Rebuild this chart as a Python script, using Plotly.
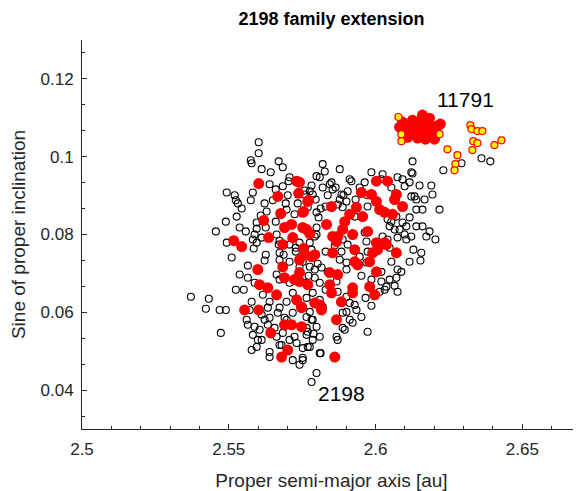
import plotly.graph_objects as go

# ---------------- data ----------------
black_a = [2.5371, 2.5432, 2.5422, 2.5469, 2.5490, 2.5473, 2.5456, 2.5493, 2.5520, 2.5524,
           2.5531, 2.5544, 2.5527, 2.5602, 2.5602, 2.5575, 2.5578, 2.5612, 2.5670, 2.5684,
           2.5643, 2.5707, 2.5704, 2.5684, 2.5582, 2.5575, 2.5622, 2.5650, 2.5629, 2.5609,
           2.5595, 2.5694, 2.5697, 2.5735, 2.5759, 2.5759, 2.5595, 2.5588, 2.5612, 2.5582,
           2.5595, 2.5663, 2.5673, 2.5741, 2.5799, 2.5799, 2.6126, 2.5820, 2.5827, 2.5810,
           2.5850, 2.5844, 2.5820, 2.5854, 2.5912, 2.5918, 2.5986, 2.6024, 2.6020, 2.6092,
           2.6116, 2.6126, 2.6190, 2.6194, 2.5963, 2.5884, 2.6122, 2.6139, 2.6139, 2.6160,
           2.5878, 2.5901, 2.5813, 2.5830, 2.5799, 2.5786, 2.5776, 2.5888, 2.5973, 2.5929,
           2.6041, 2.6071, 2.6048, 2.6065, 2.6092, 2.6105, 2.6139, 2.6160, 2.6122, 2.6184,
           2.6173, 2.5963, 2.5969, 2.5888, 2.5799, 2.5793, 2.5776, 2.6024, 2.6041, 2.6105,
           2.5537, 2.5565, 2.5578, 2.5561, 2.5565, 2.5588, 2.5605, 2.5582, 2.5595, 2.5639,
           2.5639, 2.5622, 2.5626, 2.5673, 2.5673, 2.5663, 2.5673, 2.5616, 2.5639, 2.5633,
           2.5673, 2.5667, 2.5622, 2.5633, 2.5599, 2.5663, 2.5684, 2.5673, 2.5707, 2.5731,
           2.5724, 2.5697, 2.5718, 2.5765, 2.5782, 2.5707, 2.5718, 2.5697, 2.5765, 2.5786,
           2.5741, 2.5776, 2.5793, 2.5707, 2.5670, 2.5493, 2.5585, 2.5769, 2.5718, 2.5752,
           2.5769, 2.5578, 2.6156, 2.6153, 2.6071, 2.6088, 2.6075, 2.6075, 2.6037, 2.5973,
           2.5952, 2.5912, 2.5922, 2.5929, 2.5935, 2.5888, 2.5901, 2.5888, 2.5867, 2.5871,
           2.5810, 2.5786, 2.5776, 2.5752, 2.5810, 2.5752, 2.6024, 2.6048, 2.5946, 2.5973,
           2.5969, 2.5878, 2.5901, 2.5901, 2.5816, 2.5837, 2.5810, 2.5793, 2.5867, 2.6020,
           2.6031, 2.5776, 2.5786, 2.5799, 2.5810, 2.5820, 2.5901, 2.5912, 2.5765, 2.5765,
           2.6122, 2.6231, 2.6293, 2.6361, 2.6391, 2.6099, 2.6133, 2.5799, 2.5782, 2.5813,
           2.5741, 2.5680, 2.5789, 2.5895,
           2.5782, 2.5796, 2.5769, 2.5806, 2.5864, 2.5891, 2.5871, 2.5905, 2.6054, 2.6082,
           2.6099, 2.6075, 2.6116, 2.5752, 2.5772, 2.5803, 2.5762, 2.5861, 2.5884, 2.5905,
           2.6020, 2.6048, 2.6065, 2.6014, 2.5986, 2.5612, 2.5639, 2.5656, 2.5690, 2.5612,
           2.5571, 2.5551, 2.5588, 2.5524, 2.5565, 2.5639, 2.5660, 2.5537, 2.5558, 2.5626,
           2.5660, 2.5724, 2.5687, 2.5707, 2.5728,
           2.5728, 2.5782, 2.5830, 2.5830, 2.5871, 2.5952, 2.5966, 2.5986, 2.6054, 2.6116,
           2.6129, 2.6204, 2.6167, 2.6218, 2.6150, 2.6075, 2.6054, 2.5946, 2.5973, 2.5932,
           2.5837, 2.5878, 2.5701, 2.5490, 2.5510]
black_sini = [0.0640, 0.0635, 0.0609, 0.0606, 0.0606, 0.0547, 0.0808, 0.0908, 0.0901, 0.0888,
              0.0880, 0.0867, 0.0846, 0.1037, 0.1009, 0.0991, 0.0983, 0.0968, 0.0988, 0.0973,
              0.0960, 0.0947, 0.0937, 0.0924, 0.0908, 0.0888, 0.0880, 0.0888, 0.0859, 0.0849,
              0.0831, 0.0880, 0.0864, 0.0880, 0.0913, 0.0903, 0.0815, 0.0800, 0.0792, 0.0787,
              0.0779, 0.0800, 0.0784, 0.0779, 0.0950, 0.0800, 0.0988, 0.0981, 0.0962, 0.0947,
              0.0934, 0.0929, 0.0921, 0.0916, 0.0942, 0.0937, 0.0960, 0.0955, 0.0942, 0.0942,
              0.0934, 0.0957, 0.0926, 0.0903, 0.0934, 0.0903, 0.0898, 0.0890, 0.0864, 0.0864,
              0.0890, 0.0885, 0.0867, 0.0872, 0.0857, 0.0903, 0.0911, 0.0870, 0.0872, 0.0846,
              0.0839, 0.0846, 0.0821, 0.0813, 0.0831, 0.0821, 0.0821, 0.0821, 0.0795, 0.0808,
              0.0795, 0.0805, 0.0782, 0.0787, 0.0818, 0.0795, 0.0779, 0.0795, 0.0787, 0.0787,
              0.0697, 0.0720, 0.0627, 0.0581, 0.0568, 0.0563, 0.0555, 0.0542, 0.0511, 0.0498,
              0.0485, 0.0733, 0.0748, 0.0753, 0.0735, 0.0697, 0.0684, 0.0645, 0.0627, 0.0612,
              0.0612, 0.0599, 0.0581, 0.0568, 0.0529, 0.0537, 0.0547, 0.0516, 0.0529, 0.0521,
              0.0537, 0.0581, 0.0599, 0.0588, 0.0581, 0.0676, 0.0650, 0.0627, 0.0637, 0.0650,
              0.0717, 0.0717, 0.0710, 0.0774, 0.0774, 0.0779, 0.0764, 0.0511, 0.0477, 0.0477,
              0.0550, 0.0503, 0.0753, 0.0733, 0.0689, 0.0704, 0.0710, 0.0653, 0.0666, 0.0550,
              0.0588, 0.0581, 0.0573, 0.0619, 0.0606, 0.0599, 0.0601, 0.0560, 0.0537, 0.0529,
              0.0537, 0.0529, 0.0511, 0.0508, 0.0495, 0.0483, 0.0774, 0.0766, 0.0743, 0.0756,
              0.0728, 0.0735, 0.0728, 0.0710, 0.0715, 0.0704, 0.0676, 0.0689, 0.0679, 0.0679,
              0.0658, 0.0601, 0.0581, 0.0563, 0.0632, 0.0614, 0.0640, 0.0624, 0.0560, 0.0542,
              0.0960, 0.0965, 0.0983, 0.0996, 0.0988, 0.0924, 0.0898, 0.0444, 0.0421, 0.0495,
              0.0465, 0.0516, 0.0545, 0.0555,
              0.0926, 0.0890, 0.0870, 0.0844, 0.0921, 0.0901, 0.0877, 0.0911, 0.0833, 0.0813,
              0.0800, 0.0792, 0.0844, 0.0730, 0.0694, 0.0725, 0.0676, 0.0772, 0.0756, 0.0774,
              0.0704, 0.0684, 0.0668, 0.0653, 0.0684, 0.0594, 0.0586, 0.0560, 0.0586, 0.0529,
              0.0606, 0.0658, 0.0676, 0.0658, 0.0689, 0.0929, 0.0916, 0.0818, 0.0808, 0.0818,
              0.0833, 0.0852, 0.0748, 0.0730, 0.0756,
              0.0766, 0.0761, 0.0756, 0.0658, 0.0653, 0.0694, 0.0637, 0.0617, 0.0730, 0.0730,
              0.0761, 0.0787, 0.0890, 0.0864, 0.0926, 0.0947, 0.0921, 0.0921, 0.0901, 0.0890,
              0.0901, 0.0968, 0.0901, 0.0833, 0.0741]

red_a = [2.5602, 2.5731, 2.5738, 2.5667, 2.5772, 2.5755, 2.5677, 2.5619, 2.5714, 2.5690,
         2.5752, 2.5776, 2.5718, 2.5636, 2.5517, 2.5544, 2.5755, 2.6003, 2.6041, 2.5952,
         2.5986, 2.6071, 2.6065, 2.6003, 2.6014, 2.6031, 2.6092, 2.6058, 2.5935, 2.5912,
         2.5956, 2.5850, 2.5769, 2.5752, 2.5833, 2.5895, 2.5888, 2.5854, 2.5871, 2.5922,
         2.5973, 2.6003, 2.6031, 2.5765, 2.5741, 2.5599, 2.5605, 2.5633, 2.5663, 2.5554,
         2.5602, 2.5684, 2.5690, 2.5741, 2.5724, 2.5741, 2.5769, 2.5690, 2.5714, 2.5748,
         2.5731, 2.5748, 2.5643, 2.5701, 2.5680, 2.5759, 2.5782, 2.5741, 2.5684, 2.5793,
         2.5793, 2.5854, 2.5867, 2.5929, 2.5929, 2.5939, 2.5980, 2.5990, 2.6007, 2.6037,
         2.6071, 2.6003, 2.5844, 2.5871, 2.5844, 2.5850, 2.5884, 2.5922, 2.5922, 2.5980,
         2.5997, 2.5810, 2.5816, 2.5748, 2.5867, 2.5861,
         2.6092, 2.6099, 2.6116, 2.6122, 2.6133, 2.6143, 2.6150, 2.6160, 2.6156, 2.6167,
         2.6177, 2.6184, 2.6194, 2.6204, 2.6211, 2.6221, 2.6109, 2.6143, 2.6170, 2.6126,
         2.6156, 2.6184, 2.6082, 2.6133, 2.6201]
red_sini = [0.0931, 0.0937, 0.0906, 0.0898, 0.0888, 0.0859, 0.0854, 0.0836, 0.0826, 0.0818,
            0.0818, 0.0802, 0.0792, 0.0792, 0.0784, 0.0769, 0.0764, 0.0937, 0.0937, 0.0908,
            0.0903, 0.0903, 0.0890, 0.0885, 0.0864, 0.0857, 0.0872, 0.0852, 0.0870, 0.0852,
            0.0846, 0.0872, 0.0885, 0.0857, 0.0826, 0.0833, 0.0813, 0.0795, 0.0795, 0.0800,
            0.0808, 0.0779, 0.0779, 0.0813, 0.0934, 0.0710, 0.0671, 0.0663, 0.0645, 0.0606,
            0.0606, 0.0717, 0.0689, 0.0702, 0.0684, 0.0679, 0.0671, 0.0568, 0.0568, 0.0563,
            0.0632, 0.0612, 0.0547, 0.0503, 0.0485, 0.0748, 0.0743, 0.0735, 0.0774, 0.0624,
            0.0748, 0.0753, 0.0782, 0.0761, 0.0730, 0.0722, 0.0730, 0.0753, 0.0761, 0.0774,
            0.0753, 0.0704, 0.0702, 0.0697, 0.0671, 0.0650, 0.0627, 0.0663, 0.0650, 0.0666,
            0.0645, 0.0619, 0.0606, 0.0614, 0.0581, 0.0485,
            0.1089, 0.1071, 0.1076, 0.1058, 0.1084, 0.1071, 0.1091, 0.1107, 0.1058, 0.1079,
            0.1063, 0.1084, 0.1071, 0.1058, 0.1079, 0.1084, 0.1050, 0.1048, 0.1045, 0.1094,
            0.1076, 0.1099, 0.1076, 0.1063, 0.1045]

yellow_a = [2.6078, 2.6088, 2.6088, 2.6218, 2.6245, 2.6279, 2.6272, 2.6269, 2.6323, 2.6327,
            2.6347, 2.6364, 2.6333, 2.6347, 2.6330, 2.6405, 2.6429]
yellow_sini = [0.1102, 0.1040, 0.1058, 0.1058, 0.1019, 0.1004, 0.0981, 0.0965, 0.1081, 0.1071,
               0.1066, 0.1066, 0.1040, 0.1035, 0.1017, 0.1030, 0.1042]

label_names = ["11791", "2198"]
label_a = [2.6306, 2.5884]
label_sini = [0.1146, 0.0392]

x_ticks = [2.5, 2.55, 2.6, 2.65]
x_tick_text = ["2.5", "2.55", "2.6", "2.65"]
y_ticks = [0.04, 0.06, 0.08, 0.1, 0.12]
y_tick_text = ["0.04", "0.06", "0.08", "0.1", "0.12"]

# ---------------- figure ----------------
AX = "#262626"
FONT = "Liberation Sans, Arial, Helvetica, sans-serif"
W, H = 573, 483   # page body has an 8 px margin

fig = go.Figure()
fig.add_trace(go.Scatter(
    x=black_a, y=black_sini, mode="markers", hoverinfo="skip",
    marker=dict(symbol="circle-open", size=7, color="black", line=dict(width=1.1)),
))
fig.add_trace(go.Scatter(
    x=red_a, y=red_sini, mode="markers", hoverinfo="skip",
    marker=dict(symbol="circle", size=11, color="#ff0000", line=dict(width=0)),
))
fig.add_trace(go.Scatter(
    x=yellow_a, y=yellow_sini, mode="markers", hoverinfo="skip",
    marker=dict(symbol="circle", size=7, color="#ffff00", line=dict(color="#ff0000", width=1.2)),
))

for name, a, s in zip(label_names, label_a, label_sini):
    fig.add_annotation(x=a, y=s, xref="x", yref="y", text=name, showarrow=False,
                       font=dict(family=FONT, size=21, color="black"))

fig.update_layout(
    width=W, height=H,
    margin=dict(l=74, r=0, t=32, b=62, autoexpand=False),
    paper_bgcolor="white", plot_bgcolor="white",
    showlegend=False,
    title=dict(text="<b>2198 family extension</b>", x=(74 + W) / 2 / W, xref="container",
               xanchor="center", y=1 - 11 / H, yref="container", yanchor="middle",
               font=dict(family=FONT, size=18, color="black")),
    font=dict(family=FONT, color=AX),
)
fig.update_xaxes(
    automargin=False,
    range=[2.5, 2.67], tickmode="array", tickvals=x_ticks, ticktext=x_tick_text,
    ticks="inside", ticklen=5, tickwidth=1, tickcolor=AX,
    showline=True, linecolor=AX, linewidth=1, mirror=False,
    showgrid=False, zeroline=False, ticklabelstandoff=5,
    minor=dict(ticks="inside", ticklen=3, tickcolor=AX, tick0=2.5, dtick=0.01, showgrid=False),
    tickfont=dict(family=FONT, size=17, color=AX),
    title=dict(text="Proper semi-major axis [au]", font=dict(family=FONT, size=19, color=AX)),
)
fig.update_yaxes(
    automargin=False,
    range=[0.03, 0.13], tickmode="array", tickvals=y_ticks, ticktext=y_tick_text,
    ticks="inside", ticklen=5, tickwidth=1, tickcolor=AX,
    showline=True, linecolor=AX, linewidth=1, mirror=False,
    showgrid=False, zeroline=False, ticklabelstandoff=4,
    minor=dict(ticks="inside", ticklen=3, tickcolor=AX, tick0=0.0, dtick=0.02 / 3, showgrid=False),
    tickfont=dict(family=FONT, size=17, color=AX),
    title=dict(text="Sine of proper inclination", font=dict(family=FONT, size=19, color=AX)),
)

fig.write_html("out.html")
